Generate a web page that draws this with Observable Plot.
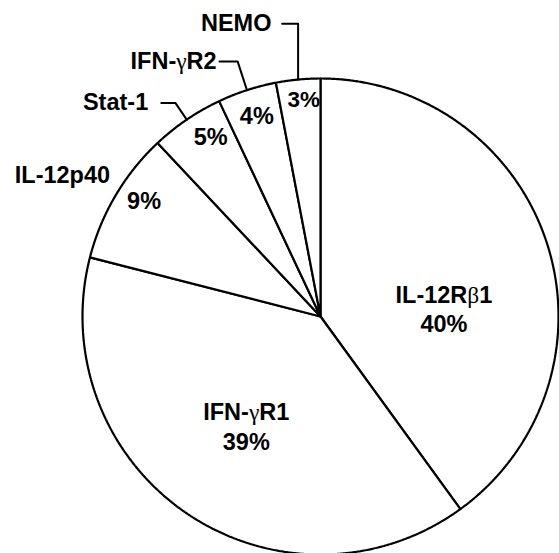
<!DOCTYPE html>
<html>
<head>
<meta charset="utf-8">
<script src="https://cdn.jsdelivr.net/npm/d3@7"></script>
<script src="https://cdn.jsdelivr.net/npm/@observablehq/plot@0.6"></script>
<style>
  html, body { margin: 0; padding: 0; background: #fff; }
  #chart svg { display: block; }
</style>
</head>
<body>
<div id="chart"></div>
<script>
// ---- data ----
const names = ["IL-12R\u03b21", "IFN-\u03b3R1", "IL-12p40", "Stat-1", "IFN-\u03b3R2", "NEMO"];
const values = [40, 39, 9, 5, 4, 3];
const pctLabels = values.map(v => v + "%");

// ---- layout (label placement relative to the pie, in degrees / radius units) ----
const inside = [
  {r: 0.52, da: 14, withName: true},
  {r: 0.555, da: 0, withName: true},
  {r: 0.89, da: 3, withName: false},
  {r: 0.89, da: 3, withName: false},
  {r: 0.89, da: 0.5, withName: false},
  {r: 0.92, da: 1, withName: false, size: 22.5}
];
const outside = {
  2: {type: "plain", angle: 298.6, r: 1.235},
  3: {type: "leader", elbowR: 1.085, horiz: 0.059, gap: 0.055},
  4: {type: "leader", elbowR: 1.127, horiz: 0.076, gap: 0.012},
  5: {type: "vertical", elbowY: 1.23, horiz: 0.067, gap: 0.045}
};

const rad = d => d * Math.PI / 180;
const arcs = d3.pie().sort(null).value(d => d)(values);

const slicePts = arcs.flatMap((a, i) => {
  const n = Math.max(2, Math.ceil((a.endAngle - a.startAngle) / 0.005));
  const pts = [{name: names[i], x: 0, y: 0}];
  for (let k = 0; k <= n; k++) {
    const t = a.startAngle + (a.endAngle - a.startAngle) * k / n;
    pts.push({name: names[i], x: Math.sin(t), y: Math.cos(t)});
  }
  pts.push({name: names[i], x: 0, y: 0});
  return pts;
});

const innerLabels = arcs.map((a, i) => {
  const p = inside[i];
  const t = (a.startAngle + a.endAngle) / 2 + rad(p.da);
  return {
    x: p.r * Math.sin(t), y: p.r * Math.cos(t),
    text: p.withName ? names[i] + "\n" + pctLabels[i] : pctLabels[i],
    size: p.size || 23.5
  };
});

const leaderPts = [];
const outerLabels = [];
Object.entries(outside).forEach(([k, o]) => {
  const i = +k;
  const a = arcs[i];
  const t = (a.startAngle + a.endAngle) / 2;
  if (o.type === "plain") {
    outerLabels.push({x: o.r * Math.sin(rad(o.angle)), y: o.r * Math.cos(rad(o.angle)), text: names[i], anchor: "middle"});
    return;
  }
  const p0 = {x: Math.sin(t), y: Math.cos(t)};
  const p1 = o.type === "leader" ? {x: o.elbowR * Math.sin(t), y: o.elbowR * Math.cos(t)} : {x: p0.x, y: o.elbowY};
  const p2 = {x: p1.x - o.horiz, y: p1.y};
  [p0, p1, p2].forEach(p => leaderPts.push({name: names[i], ...p}));
  outerLabels.push({x: p2.x - o.gap, y: p2.y, text: names[i], anchor: "end"});
});

const font = "'Liberation Sans', Arial, Helvetica, sans-serif";

const chart = Plot.plot({
  width: 559,
  height: 553,
  margin: 0,
  style: {background: "#fff", fontFamily: font},
  x: {domain: [-1, 1], range: [82, 558], axis: null},
  y: {domain: [-1, 1], range: [554, 78], axis: null},
  marks: [
    Plot.line(slicePts, {x: "x", y: "y", z: "name", fill: "white", stroke: "black", strokeWidth: 2.2, strokeLinejoin: "miter"}),
    Plot.line(leaderPts, {x: "x", y: "y", z: "name", stroke: "black", strokeWidth: 2}),
    Plot.text(innerLabels, {x: "x", y: "y", text: "text", fontSize: "size", fontWeight: "bold", fill: "black", lineHeight: 1.25}),
    Plot.text(outerLabels.filter(d => d.anchor === "middle"), {x: "x", y: "y", text: "text", fontSize: 23.5, fontWeight: "bold", fill: "black", textAnchor: "middle"}),
    Plot.text(outerLabels.filter(d => d.anchor === "end"), {x: "x", y: "y", text: "text", fontSize: 23.5, fontWeight: "bold", fill: "black", textAnchor: "end"})
  ]
});

// Greek letters in a Symbol-like serif face, as in the reference
chart.querySelectorAll("text, tspan").forEach(el => {
  Array.from(el.childNodes).forEach(node => {
    if (node.nodeType !== 3 || !/[\u03b2\u03b3]/.test(node.nodeValue)) return;
    const parts = node.nodeValue.split(/([\u03b2\u03b3])/);
    const frag = document.createDocumentFragment();
    parts.forEach(s => {
      if (!s) return;
      if (/[\u03b2\u03b3]/.test(s)) {
        const ts = document.createElementNS("http://www.w3.org/2000/svg", "tspan");
        ts.setAttribute("font-family", "'Liberation Serif', 'DejaVu Serif', serif");
        ts.setAttribute("font-weight", "normal");
        ts.textContent = s;
        frag.appendChild(ts);
      } else {
        frag.appendChild(document.createTextNode(s));
      }
    });
    el.replaceChild(frag, node);
  });
});

document.getElementById("chart").appendChild(chart);
</script>
</body>
</html>
